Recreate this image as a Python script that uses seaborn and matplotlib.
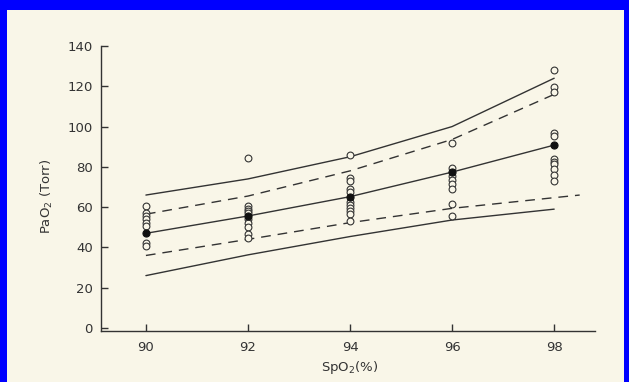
import pandas as pd
import seaborn as sns
import matplotlib.pyplot as plt
from matplotlib.patches import Rectangle

# values
spo2_ticks = [90, 92, 94, 96, 98]
pao2_ticks = [0, 20, 40, 60, 80, 100, 120, 140]

obs_90 = [60.5, 57.3, 55.6, 54.0, 52.3, 50.6, 42.4, 40.7]
obs_92 = [84.5, 60.5, 59.2, 58.0, 56.9, 54.3, 52.3, 50.3, 46.5, 44.9]
obs_94 = [86.1, 74.6, 72.9, 68.8, 67.5, 62.5, 61.0, 59.5, 58.0, 56.5, 53.1]
obs_96 = [91.6, 79.5, 75.4, 73.4, 71.3, 68.8, 61.4, 55.6]
obs_98 = [128.2, 119.5, 117.1, 96.9, 95.5, 83.7, 82.5, 81.2, 78.7, 76.2, 72.9]

mean_pao2 = [47.0, 55.6, 65.2, 77.4, 90.8]

upper_solid = [66.0, 74.0, 85.0, 100.0, 124.0]
upper_dash = [56.5, 65.5, 78.0, 93.6, 116.0]
lower_dash = [36.0, 44.0, 52.3, 59.4, 64.7, 66.0]
lower_dash_x = [90, 92, 94, 96, 98, 98.5]
lower_solid = [26.0, 36.3, 45.4, 53.6, 59.0]

# build a long table of the open circles
rows = []
for x, vals in zip(spo2_ticks, [obs_90, obs_92, obs_94, obs_96, obs_98]):
    for v in vals:
        rows.append({"spo2": x, "pao2": v})
obs = pd.DataFrame(rows)

ink = "#333333"
paper = "#f9f6e8"

sns.set_style("white")
plt.rcParams["font.family"] = ["DejaVu Sans"]

fig = plt.figure(figsize=(6.29, 3.82), dpi=100)
fig.patch.set_facecolor("#0000ff")
# cream page inside the blue frame
fig.patches.append(Rectangle((7 / 629, 0), (629 - 12) / 629, (382 - 10) / 382,
                             transform=fig.transFigure, facecolor=paper,
                             edgecolor="none", zorder=-10))

ax = fig.add_axes([101 / 629, 51 / 382, 494 / 629, 285 / 382])
ax.set_zorder(5)
ax.set_facecolor("none")

# confidence / prediction curves
sns.lineplot(x=spo2_ticks, y=upper_solid, ax=ax, color=ink, lw=1.0,
             estimator=None, sort=False)
sns.lineplot(x=spo2_ticks, y=mean_pao2, ax=ax, color=ink, lw=1.0,
             estimator=None, sort=False)
sns.lineplot(x=spo2_ticks, y=lower_solid, ax=ax, color=ink, lw=1.0,
             estimator=None, sort=False)
sns.lineplot(x=spo2_ticks, y=upper_dash, ax=ax, color=ink, lw=1.0,
             estimator=None, sort=False, linestyle=(0, (7, 5)))
sns.lineplot(x=lower_dash_x, y=lower_dash, ax=ax, color=ink, lw=1.0,
             estimator=None, sort=False, linestyle=(0, (7, 5)))

# observations
sns.scatterplot(data=obs, x="spo2", y="pao2", ax=ax, marker="o", s=24,
                facecolor=paper, edgecolor=ink, linewidth=0.8, zorder=3)
sns.scatterplot(x=spo2_ticks, y=mean_pao2, ax=ax, marker="o", s=26,
                color="#111111", edgecolor="#111111", linewidth=0.8, zorder=4)

ax.set_xlim(89.12, 98.8)
ax.set_ylim(-1.5, 140)
ax.set_xticks(spo2_ticks)
ax.set_yticks(pao2_ticks)
ax.tick_params(direction="in", length=5, width=1.0, color=ink,
               labelcolor=ink, labelsize=9.5, bottom=True, left=True)
ax.tick_params(axis="y", pad=6)
ax.tick_params(axis="x", pad=7)

for side in ["top", "right"]:
    ax.spines[side].set_visible(False)
for side in ["left", "bottom"]:
    ax.spines[side].set_color(ink)
    ax.spines[side].set_linewidth(1.0)

ax.set_xlabel("SpO$_2$(%)", fontsize=9.5, color=ink)
ax.set_ylabel("PaO$_2$ (Torr)", fontsize=9.5, color=ink)
ax.xaxis.set_label_coords(0.504, -0.1)
ax.yaxis.set_label_coords(-0.093, 0.474)

fig.savefig("out.png", dpi=100, facecolor=fig.get_facecolor())
